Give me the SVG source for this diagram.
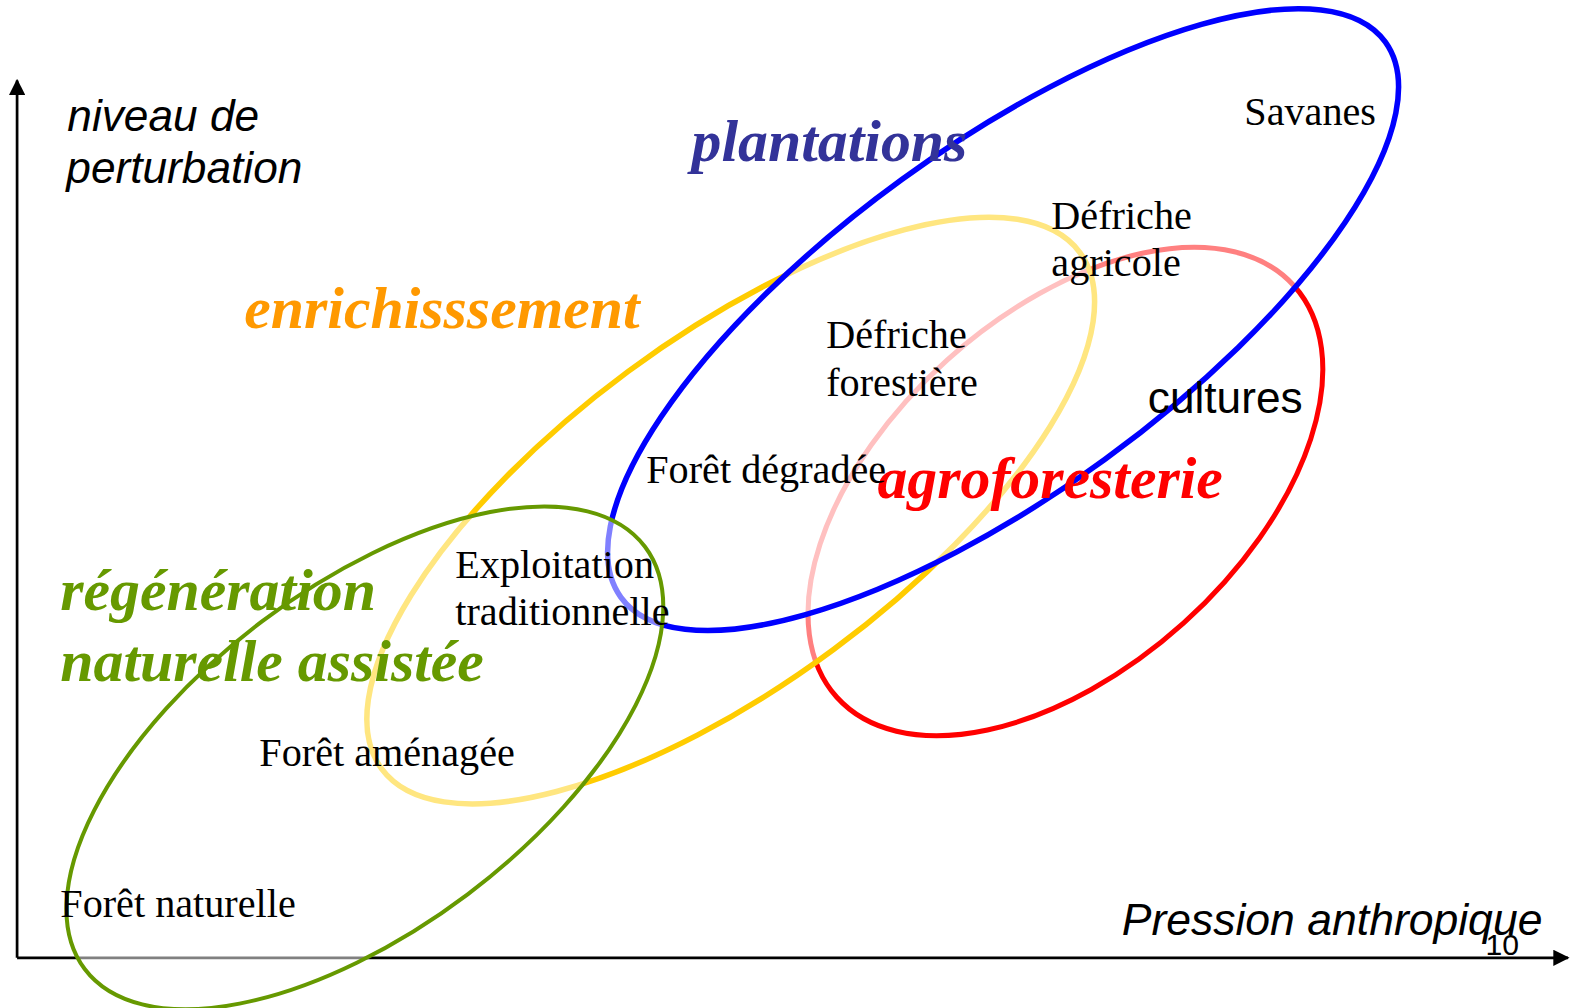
<svg xmlns="http://www.w3.org/2000/svg" width="1576" height="1008" viewBox="0 0 1576 1008">
<style>
.ell{fill:#fff;fill-opacity:0.5}
.lbl{font-family:"Liberation Serif","Times New Roman",serif;font-size:40px;fill:#000}
.big{font-family:"Liberation Serif","Times New Roman",serif;font-size:59.5px;font-weight:bold;font-style:italic}
.ax{font-family:"Liberation Sans",Arial,sans-serif;font-style:italic;fill:#000}
.axis{stroke:#000;stroke-width:2.7;fill:none}
</style>
<defs>
<marker id="arr" viewBox="0 0 10 10" refX="9" refY="5" markerWidth="6" markerHeight="6" markerUnits="strokeWidth" orient="auto">
<path d="M0,0 L10,5 L0,10 z" fill="#000"/>
</marker>
</defs>
<rect width="1576" height="1008" fill="#fff"/>
<g transform="scale(1.0051)">
<g id="connectors">
<line class="axis" x1="17" y1="953" x2="17" y2="80" marker-end="url(#arr)"/>
<line class="axis" x1="17" y1="953" x2="1560" y2="953" marker-end="url(#arr)"/>
</g>
<g id="node-agroforesterie-ellipse">
<ellipse class="ell" cx="1060" cy="489" rx="306" ry="176" transform="rotate(-42 1060 489)" stroke="#FF0000" stroke-width="5"/>
</g>
<g id="node-enrichissement-ellipse">
<ellipse class="ell" cx="727" cy="508" rx="432" ry="172" transform="rotate(-36.5 727 508)" stroke="#FFCC00" stroke-width="5.5"/>
</g>
<g id="node-plantations-ellipse">
<ellipse class="ell" cx="998" cy="318" rx="470" ry="172" transform="rotate(-36 998 318)" stroke="#0000FF" stroke-width="5.5"/>
</g>
<g id="node-rna-ellipse">
<ellipse class="ell" cx="363" cy="754" rx="349" ry="170" transform="rotate(-37 363 754)" stroke="#669900" stroke-width="4"/>
</g>
<g id="node-axis-labels">
<text class="ax" x="67" y="130" font-size="44">niveau de</text>
<text class="ax" x="66" y="182" font-size="44">perturbation</text>
<text class="ax" x="1116" y="930" font-size="44.3">Pression anthropique</text>
<text x="1478" y="950" font-family="Liberation Sans, Arial, sans-serif" font-size="30">10</text>
</g>
<g id="node-groups">
<text class="big" x="688" y="160" font-size="60" fill="#333399">plantations</text>
<text class="big" x="243" y="326" fill="#FF9900">enrichisssement</text>
<text class="big" x="873" y="495" fill="#FF0000">agroforesterie</text>
<text class="big" x="60" y="607" fill="#669900">régénération</text>
<text class="big" x="60" y="678" fill="#669900">naturelle assistée</text>
<text x="1142" y="411" font-family="Liberation Sans, Arial, sans-serif" font-size="44">cultures</text>
</g>
<g id="node-states">
<text class="lbl" x="1238" y="124">Savanes</text>
<text class="lbl" x="1046" y="228">Défriche</text>
<text class="lbl" x="1046" y="275">agricole</text>
<text class="lbl" x="822" y="346">Défriche</text>
<text class="lbl" x="822" y="394">forestière</text>
<text class="lbl" x="643" y="481">Forêt dégradée</text>
<text class="lbl" x="453" y="575">Exploitation</text>
<text class="lbl" x="453" y="622">traditionnelle</text>
<text class="lbl" x="258" y="762">Forêt aménagée</text>
<text class="lbl" x="60" y="912">Forêt naturelle</text>
</g>
</g>
</svg>
